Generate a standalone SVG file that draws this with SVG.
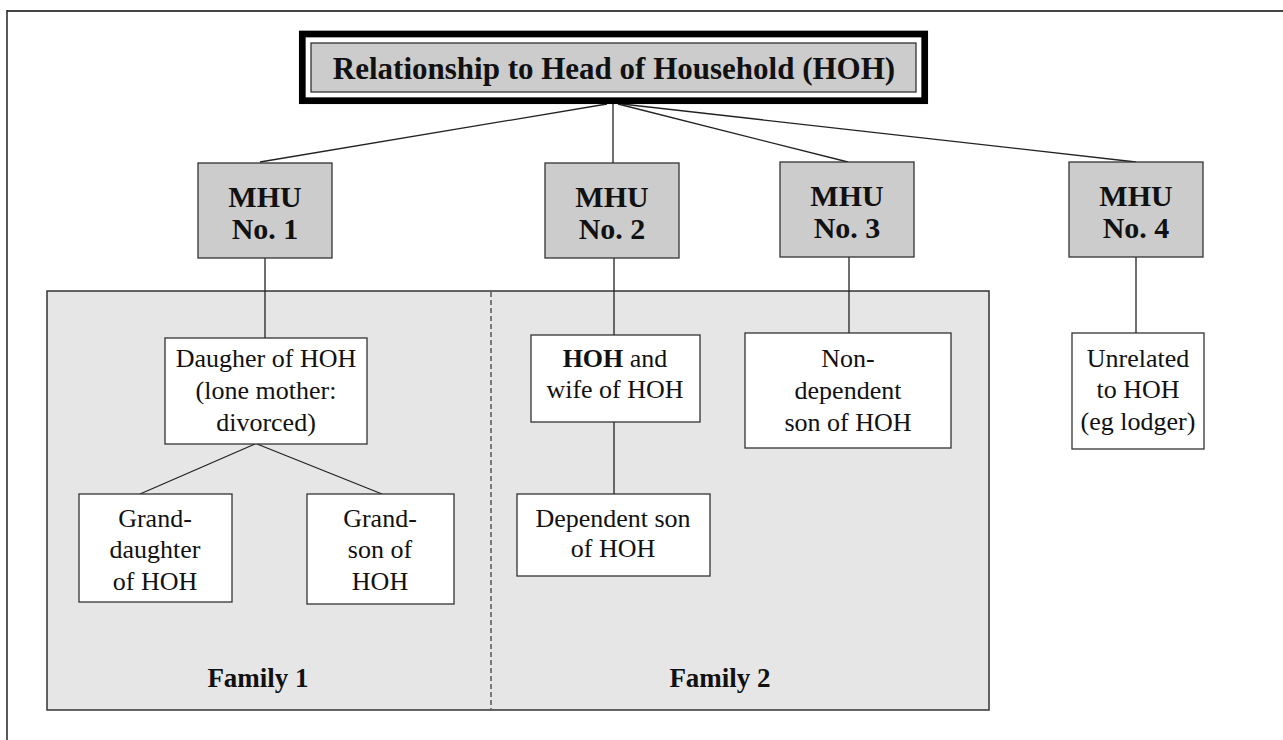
<svg xmlns="http://www.w3.org/2000/svg" width="1283" height="740" viewBox="0 0 1283 740">
<style>
text{font-family:"Liberation Serif",Tinos,"DejaVu Serif",serif;fill:#111;text-anchor:middle}
.t{font-size:26px;font-weight:normal}
.b{font-weight:bold}
.m{font-size:30px;font-weight:bold}
.gray{fill:#cccccc;stroke:#333;stroke-width:1.3}
.wh{fill:#ffffff;stroke:#333;stroke-width:1.3}
.ln{stroke:#222;stroke-width:1.3;fill:none}
</style>
<rect width="1283" height="740" fill="#ffffff"/>
<g id="frame">
<line x1="7" y1="11" x2="1283" y2="11" stroke="#444" stroke-width="2"/>
<line x1="7" y1="10" x2="7" y2="740" stroke="#222" stroke-width="1.5"/>
</g>
<g id="families">
<rect x="47" y="291" width="942" height="419" fill="#e6e6e6" stroke="#333" stroke-width="1.5"/>
<line x1="491" y1="292" x2="491" y2="709" stroke="#333" stroke-width="1.2" stroke-dasharray="5,3"/>
<text class="t b" x="258" y="687" style="font-size:27px">Family 1</text>
<text class="t b" x="720" y="687" style="font-size:27px">Family 2</text>
</g>
<g id="connectors">
<line class="ln" x1="607" y1="104" x2="260" y2="162"/>
<line class="ln" x1="613" y1="104" x2="613" y2="163"/>
<line class="ln" x1="618" y1="104" x2="848" y2="162"/>
<line class="ln" x1="622" y1="104" x2="1136" y2="162"/>
<line class="ln" x1="265" y1="258" x2="265" y2="338"/>
<line class="ln" x1="255" y1="444" x2="140" y2="494"/>
<line class="ln" x1="257" y1="444" x2="382" y2="494"/>
<line class="ln" x1="614" y1="258" x2="614" y2="335"/>
<line class="ln" x1="614" y1="422" x2="614" y2="494"/>
<line class="ln" x1="849" y1="257" x2="849" y2="333"/>
<line class="ln" x1="1136" y1="257" x2="1136" y2="333"/>
</g>
<g id="title">
<rect x="302.3" y="34" width="622.4" height="66.7" fill="#ffffff" stroke="#000" stroke-width="6.7"/>
<rect x="311" y="43" width="605" height="49" class="gray"/>
<text class="m" x="614" y="79" style="font-size:31px">Relationship to Head of Household (HOH)</text>
</g>
<g id="mhu1">
<rect x="198" y="163" width="134" height="95" class="gray"/>
<text class="m" x="265" y="207">MHU</text>
<text class="m" x="265" y="239">No. 1</text>
</g>
<g id="mhu2">
<rect x="545" y="163" width="134" height="95" class="gray"/>
<text class="m" x="612" y="207">MHU</text>
<text class="m" x="612" y="239">No. 2</text>
</g>
<g id="mhu3">
<rect x="780" y="162" width="134" height="95" class="gray"/>
<text class="m" x="847" y="206">MHU</text>
<text class="m" x="847" y="238">No. 3</text>
</g>
<g id="mhu4">
<rect x="1069" y="162" width="134" height="95" class="gray"/>
<text class="m" x="1136" y="206">MHU</text>
<text class="m" x="1136" y="238">No. 4</text>
</g>
<g id="daughter">
<rect x="165" y="338" width="202" height="106" class="wh"/>
<text class="t" x="266" y="367">Daugher of HOH</text>
<text class="t" x="266" y="399">(lone mother:</text>
<text class="t" x="266" y="431">divorced)</text>
</g>
<g id="granddaughter">
<rect x="79" y="494" width="153" height="108" class="wh"/>
<text class="t" x="155" y="527">Grand-</text>
<text class="t" x="155" y="558">daughter</text>
<text class="t" x="155" y="590">of HOH</text>
</g>
<g id="grandson">
<rect x="307" y="494" width="147" height="110" class="wh"/>
<text class="t" x="380" y="527">Grand-</text>
<text class="t" x="380" y="558">son of</text>
<text class="t" x="380" y="590">HOH</text>
</g>
<g id="hoh">
<rect x="531" y="335" width="169" height="87" class="wh"/>
<text class="t" x="615" y="367"><tspan class="b">HOH</tspan> and</text>
<text class="t" x="615" y="398">wife of HOH</text>
</g>
<g id="depson">
<rect x="517" y="494" width="193" height="82" class="wh"/>
<text class="t" x="613" y="527">Dependent son</text>
<text class="t" x="613" y="557">of HOH</text>
</g>
<g id="nondep">
<rect x="745" y="333" width="206" height="115" class="wh"/>
<text class="t" x="848" y="367">Non-</text>
<text class="t" x="848" y="399">dependent</text>
<text class="t" x="848" y="431">son of HOH</text>
</g>
<g id="unrelated">
<rect x="1072" y="333" width="132" height="116" class="wh"/>
<text class="t" x="1138" y="367">Unrelated</text>
<text class="t" x="1138" y="398">to HOH</text>
<text class="t" x="1138" y="430">(eg lodger)</text>
</g>
</svg>
